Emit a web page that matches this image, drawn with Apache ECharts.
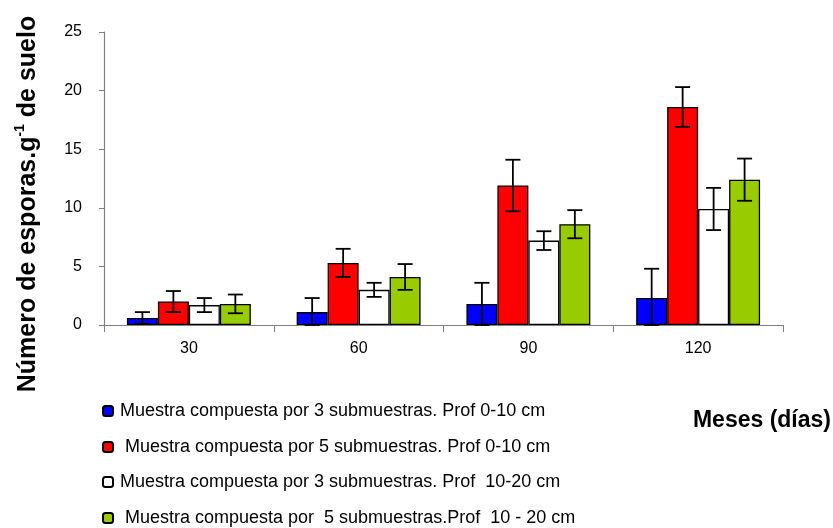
<!DOCTYPE html>
<html>
<head>
<meta charset="utf-8">
<script src="https://cdn.jsdelivr.net/npm/echarts@6/dist/echarts.min.js"></script>
<style>
  html, body { margin: 0; padding: 0; background: #fff; }
  #chart { width: 833px; height: 528px; }
</style>
</head>
<body>
<div id="chart"></div>
<script>
// categorias (meses / dias)
const categories = ['30', '60', '90', '120'];
const seriesNames = [
    'Muestra compuesta por 3 submuestras. Prof 0-10 cm',
    ' Muestra compuesta por 5 submuestras. Prof 0-10 cm',
    'Muestra compuesta por 3 submuestras. Prof  10-20 cm',
    ' Muestra compuesta por  5 submuestras.Prof  10 - 20 cm',
];
const colors = ['#0000ff', '#ff0000', '#ffffff', '#99cc00'];

// medias
const m3p010 = [0.6, 1.1, 1.8, 2.3];
const m5p010 = [2.0, 5.3, 11.9, 18.6];
const m3p1020 = [1.7, 3.0, 7.2, 9.9];
const m5p1020 = [1.8, 4.1, 8.6, 12.4];
// desviaciones (barras de error)
const e3p010 = [0.5, 1.2, 1.8, 2.5];
const e5p010 = [0.9, 1.2, 2.2, 1.7];
const e3p1020 = [0.6, 0.6, 0.8, 1.8];
const e5p1020 = [0.8, 1.1, 1.2, 1.8];

const yTicks = [0, 5, 10, 15, 20, 25];

const means = [m3p010, m5p010, m3p1020, m5p1020];
const errs = [e3p010, e5p010, e3p1020, e5p1020];

const GAP = 0.27;
const FONT = 'Liberation Sans, Arial, sans-serif';

const chart = echarts.init(document.getElementById('chart'));

const barSeries = means.map((vals, i) => ({
    name: seriesNames[i],
    type: 'bar',
    data: vals,
    barGap: 0,
    barCategoryGap: GAP * 100 + '%',
    itemStyle: { color: colors[i], borderColor: '#000', borderWidth: 1.3 },
    emphasis: { disabled: true },
    z: 2,
}));

// barras de error dibujadas con serie custom
const errSeries = means.map((vals, i) => ({
    type: 'custom',
    silent: true,
    z: 5,
    data: vals.map((v, k) => [k, v - errs[i][k], v + errs[i][k]]),
    renderItem: (params, api) => {
        const band = api.size([1, 0])[0];
        const barW = band * (1 - GAP) / 4;
        const lo = api.coord([api.value(0), Math.max(api.value(1), 0)]);
        const hi = api.coord([api.value(0), api.value(2)]);
        const x = lo[0] + (i - 1.5) * barW;
        const cap = 7.5;
        const style = { stroke: '#000', lineWidth: 1.8 };
        return {
            type: 'group',
            children: [
                { type: 'line', shape: { x1: x, y1: lo[1], x2: x, y2: hi[1] }, style },
                { type: 'line', shape: { x1: x - cap, y1: hi[1], x2: x + cap, y2: hi[1] }, style },
                { type: 'line', shape: { x1: x - cap, y1: lo[1], x2: x + cap, y2: lo[1] }, style },
            ],
        };
    },
}));

// una leyenda por serie, apiladas
const legendTops = [402, 438, 473, 509];
const legends = seriesNames.map((name, i) => ({
    data: [name],
    left: 102,
    top: legendTops[i],
    padding: 0,
    itemWidth: 10,
    itemHeight: 10,
    selectedMode: false,
    textStyle: { fontSize: 18, color: '#000', padding: [0, 0, 0, 2] },
}));

const option = {
    animation: false,
    textStyle: { fontFamily: FONT },
    grid: { left: 104, right: 50, top: 32, bottom: 203 },
    legend: legends,
    xAxis: {
        type: 'category',
        data: categories,
        axisLine: { lineStyle: { color: '#808080', width: 1.2 } },
        axisTick: { show: true, length: 7, lineStyle: { color: '#808080' } },
        axisLabel: { fontSize: 16, color: '#000', margin: 16 },
    },
    yAxis: {
        type: 'value',
        min: yTicks[0],
        max: yTicks[yTicks.length - 1],
        interval: yTicks[1] - yTicks[0],
        splitLine: { show: false },
        axisLine: { show: true, lineStyle: { color: '#808080', width: 1.2 } },
        axisTick: { show: true, length: 5, lineStyle: { color: '#808080' } },
        axisLabel: { fontSize: 16, color: '#000', margin: 22 },
    },
    graphic: [
        {
            type: 'text',
            x: 28,
            y: 204,
            rotation: Math.PI / 2,
            style: {
                text: '{b|Número de esporas.g}{s|-1}{b| de suelo}',
                align: 'center',
                verticalAlign: 'middle',
                rich: {
                    b: { font: 'bold 25px ' + FONT, fill: '#000', lineHeight: 30 },
                    s: { font: 'bold 14px ' + FONT, fill: '#000', verticalAlign: 'top', lineHeight: 30 },
                },
            },
        },
        {
            type: 'text',
            right: 2,
            top: 409,
            style: { text: 'Meses (días)', font: 'bold 23px ' + FONT, fill: '#000' },
        },
    ],
    series: [...barSeries, ...errSeries],
};

chart.setOption(option);
</script>
</body>
</html>
